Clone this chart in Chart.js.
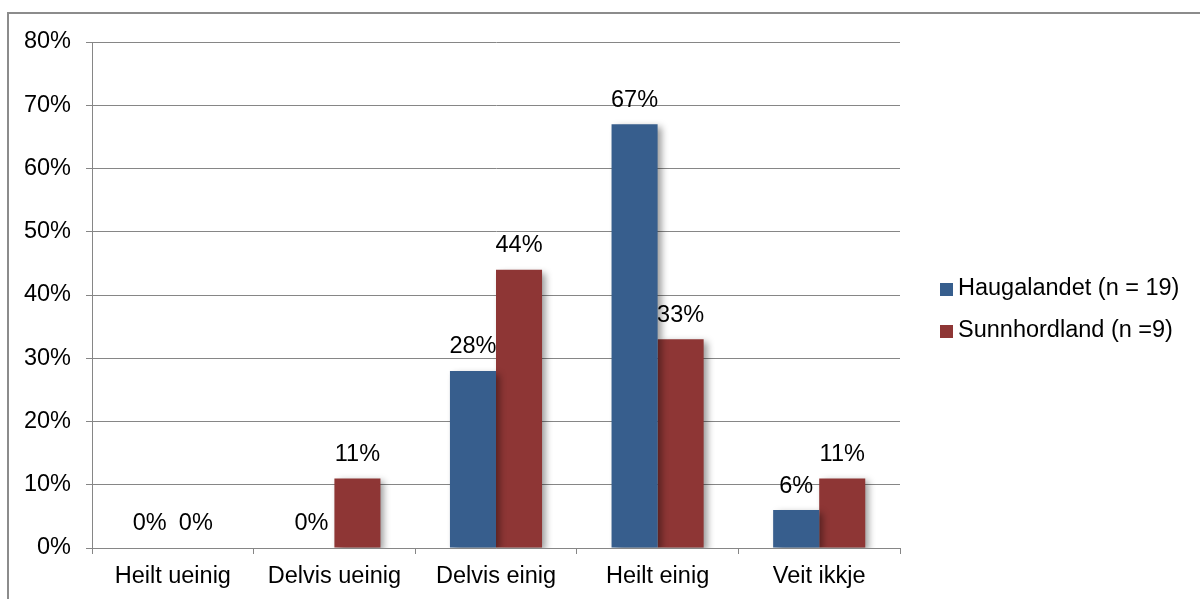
<!DOCTYPE html>
<html>
<head>
<meta charset="utf-8">
<script src="https://cdn.jsdelivr.net/npm/chart.js@4.4.1/dist/chart.umd.min.js"></script>
<style>
    body { margin: 0; background: #fff; }
    #frame {
        position: absolute;
        left: 7px;
        top: 12px;
        width: 1200px;
        height: 600px;
        border: 2px solid #8c8c8c;
        box-sizing: border-box;
    }
    #wrap { position: absolute; left: 0; top: 0; width: 1200px; height: 599px; }
</style>
</head>
<body>
<div id="frame"></div>
<div id="wrap"><canvas id="surveyChart"></canvas></div>
<script>
const categories = ['Heilt ueinig', 'Delvis ueinig', 'Delvis einig', 'Heilt einig', 'Veit ikkje'];
const haugalandet = [0, 0, 28, 67, 6];
const sunnhordland = [0, 11, 44, 33, 11];
const seriesNames = ['Haugalandet (n = 19)', 'Sunnhordland (n =9)'];
const seriesColors = ['#375E8D', '#8E3635'];

const FONT = '"Liberation Sans", Arial, sans-serif';
const gridGrey = '#868686';

Chart.defaults.font.family = FONT;
Chart.defaults.font.size = 23.5;
Chart.defaults.color = '#000';

// soft drop shadow behind the bars
const barShadow = {
    id: 'barShadow',
    beforeDatasetsDraw(chart) {
        const ctx = chart.ctx;
        ctx.save();
        ctx.shadowColor = 'rgba(0, 0, 0, 0.4)';
        ctx.shadowBlur = 7;
        ctx.shadowOffsetX = 4;
        ctx.shadowOffsetY = 3;
    },
    afterDatasetsDraw(chart) {
        chart.ctx.restore();
    }
};

// percentage labels above each bar
const valueLabels = {
    id: 'valueLabels',
    afterDatasetsDraw(chart) {
        const ctx = chart.ctx;
        ctx.save();
        ctx.shadowColor = 'transparent';
        ctx.font = '23.5px ' + FONT;
        ctx.fillStyle = '#000';
        ctx.textAlign = 'center';
        ctx.textBaseline = 'middle';
        chart.data.datasets.forEach((ds, i) => {
            chart.getDatasetMeta(i).data.forEach((bar, j) => {
                ctx.fillText(ds.data[j] + '%', bar.x, bar.y - 24);
            });
        });
        ctx.restore();
    }
};

// legend on the right side
const sideLegend = {
    id: 'sideLegend',
    afterDraw(chart) {
        const ctx = chart.ctx;
        ctx.save();
        ctx.font = '23.5px ' + FONT;
        ctx.textBaseline = 'middle';
        ctx.textAlign = 'left';
        const rows = [289, 331];
        seriesNames.forEach((name, i) => {
            ctx.fillStyle = seriesColors[i];
            ctx.fillRect(940, rows[i] - 6, 13, 13);
            ctx.fillStyle = '#000';
            ctx.fillText(name, 958, rows[i]);
        });
        ctx.restore();
    }
};

new Chart(document.getElementById('surveyChart'), {
    type: 'bar',
    data: {
        labels: categories,
        datasets: [
            { label: seriesNames[0], data: haugalandet, backgroundColor: seriesColors[0] },
            { label: seriesNames[1], data: sunnhordland, backgroundColor: seriesColors[1] }
        ]
    },
    options: {
        responsive: true,
        maintainAspectRatio: false,
        animation: false,
        layout: { padding: { top: 42, right: 300, left: 0, bottom: 0 } },
        datasets: {
            bar: { categoryPercentage: 0.57, barPercentage: 1.0 }
        },
        plugins: {
            legend: { display: false },
            tooltip: { enabled: false }
        },
        scales: {
            x: {
                grid: { drawOnChartArea: false, drawTicks: true, tickLength: 6, color: gridGrey },
                border: { color: gridGrey },
                ticks: { padding: 8 },
                afterFit(scale) { scale.height = 51; }
            },
            y: {
                min: 0,
                max: 80,
                ticks: { stepSize: 10, padding: 15, callback: v => v + '%' },
                grid: { color: gridGrey, tickLength: 6 },
                border: { color: gridGrey },
                afterFit(scale) { scale.width = 92; }
            }
        }
    },
    plugins: [barShadow, valueLabels, sideLegend]
});
</script>
</body>
</html>
